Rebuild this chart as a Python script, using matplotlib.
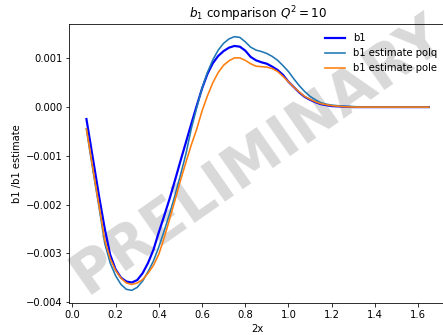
import matplotlib
matplotlib.use("Agg")
import matplotlib.pyplot as plt

x = [0.065, 0.08, 0.1, 0.125, 0.15, 0.175, 0.2, 0.225, 0.25, 0.275, 0.3, 0.325, 0.35,
     0.375, 0.4, 0.425, 0.45, 0.475, 0.5, 0.525, 0.55, 0.575, 0.6, 0.625, 0.65, 0.675,
     0.7, 0.725, 0.75, 0.775, 0.8, 0.825, 0.85, 0.875, 0.9, 0.925, 0.95, 0.975, 1.0,
     1.025, 1.05, 1.075, 1.1, 1.125, 1.15, 1.175, 1.2, 1.25, 1.3, 1.35, 1.4, 1.5, 1.65]

b1 = [-0.000245, -0.00065, -0.00119, -0.00187, -0.0025, -0.00303, -0.00333, -0.0035,
      -0.00358, -0.0036, -0.00355, -0.00341, -0.0032, -0.00293, -0.00257, -0.00223,
      -0.00188, -0.0015, -0.00111, -0.00073, -0.00035, 0.00002, 0.00038, 0.00068,
      0.0009, 0.00105, 0.00115, 0.00122, 0.001255, 0.00124, 0.00116, 0.00103, 0.00096,
      0.00092, 0.00089, 0.00083, 0.00076, 0.00066, 0.00052, 0.00041, 0.0003, 0.00021,
      0.00015, 0.0001, 0.00006, 0.00004, 0.00002, 0.00001, 0.0, 0.0, 0.0, 0.0, 0.0]

polq = [-0.00045, -0.00088, -0.00143, -0.0021, -0.0028, -0.0032, -0.00346, -0.00364,
        -0.00374, -0.00376, -0.0037, -0.00357, -0.00338, -0.00316, -0.00287, -0.00254,
        -0.00219, -0.00181, -0.0014, -0.00097, -0.00045, -0.00002, 0.00039, 0.00071,
        0.00097, 0.00117, 0.00131, 0.0014, 0.001445, 0.00143, 0.00134, 0.00123, 0.00117,
        0.00114, 0.0011, 0.00104, 0.00096, 0.00085, 0.00073, 0.00058, 0.00044, 0.00032,
        0.00022, 0.00015, 0.00009, 0.00006, 0.00004, 0.00002, 0.00001, 0.0, 0.0, 0.0, 0.0]

pole = [-0.00045, -0.00085, -0.0014, -0.00206, -0.00273, -0.00311, -0.00335, -0.00351,
        -0.00361, -0.00364, -0.00361, -0.00354, -0.00341, -0.00325, -0.00302, -0.00268,
        -0.0023, -0.00191, -0.00151, -0.00114, -0.00078, -0.00046, -0.00008, 0.00023,
        0.0005, 0.00071, 0.00086, 0.00095, 0.00101, 0.00101, 0.00096, 0.00089, 0.00084,
        0.00083, 0.00082, 0.00079, 0.00073, 0.00063, 0.00052, 0.00041, 0.00031, 0.00022,
        0.00016, 0.00011, 0.00007, 0.00005, 0.00003, 0.00001, 0.0, 0.0, 0.0, 0.0, 0.0]

fig = plt.figure(figsize=(443 / 72, 335 / 72), dpi=72)
ax = fig.add_axes([69.3 / 443, 32 / 335, (446 - 69.3) / 443, (303 - 24) / 335])

ax.plot(x, b1, color="blue", lw=2.2, label="b1")
ax.plot(x, polq, color="#1f77b4", lw=1.6, label="b1 estimate polq")
ax.plot(x, pole, color="#ff7f0e", lw=1.6, label="b1 estimate pole")

ax.text(0.5, 0.53, "PRELIMINARY", transform=ax.transAxes, fontsize=58,
        fontweight="bold", color="gray", alpha=0.3, rotation=35,
        ha="center", va="center", zorder=0)

ax.set_title("$b_1$ comparison $Q^2=10$")
ax.set_xlabel("2x")
ax.set_ylabel("b1 /b1 estimate")
ax.set_xticks([0.0, 0.2, 0.4, 0.6, 0.8, 1.0, 1.2, 1.4, 1.6])
ax.set_yticks([-0.004, -0.003, -0.002, -0.001, 0.0, 0.001])
ax.legend(loc="upper right", frameon=False)

fig.savefig("out.png", dpi=72)
